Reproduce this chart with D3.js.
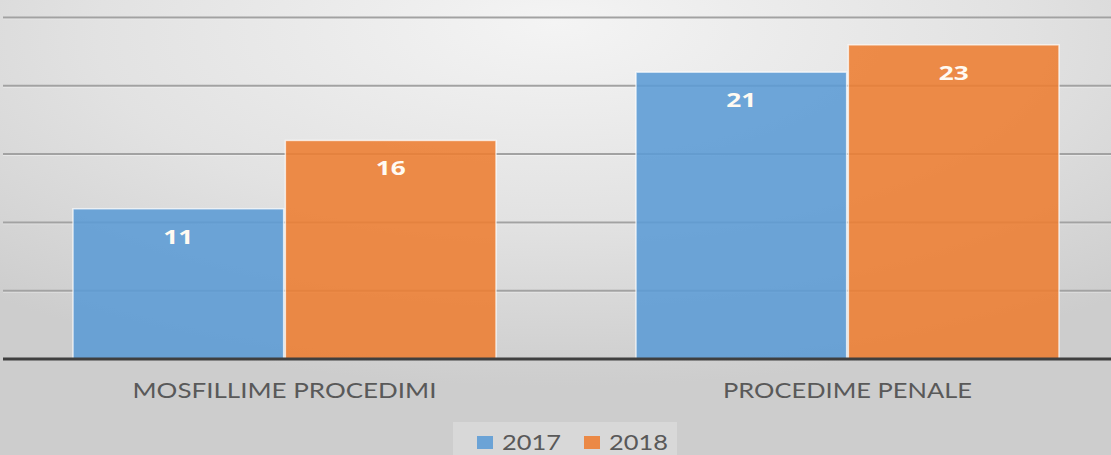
<!DOCTYPE html>
<html><head><meta charset="utf-8">
<script src="https://cdn.jsdelivr.net/npm/d3@7"></script>
<style>html,body{margin:0;padding:0;overflow:hidden;background:#ddd}</style>
</head><body><svg id="c" width="1111" height="455"></svg>
<script>
const categories = ["MOSFILLIME PROCEDIMI", "PROCEDIME PENALE"];
const seriesNames = ["2017", "2018"];
const values2017 = [11, 21];
const values2018 = [16, 23];
const yTicks = [5, 10, 15, 20, 25];
const colors = ["#5B9BD5", "#ED7D31"];

const svg = d3.select("#c");
const W = 1111, H = 455;
const defs = svg.append("defs");
const rg = defs.append("radialGradient").attr("id","bg").attr("cx","50%").attr("cy","10%").attr("r","75%").attr("fx","50%").attr("fy","5%");
rg.append("stop").attr("offset","0%").attr("stop-color","#f4f4f4");
rg.append("stop").attr("offset","55%").attr("stop-color","#e2e2e2");
rg.append("stop").attr("offset","100%").attr("stop-color","#cdcdcd");
svg.append("rect").attr("width",W).attr("height",H).attr("fill","url(#bg)");

const y = d3.scaleLinear().domain([0,25]).range([359,17.5]);
const x0 = d3.scaleBand().domain(categories).range([3,1129]);
const x1 = d3.scaleBand().domain(seriesNames).range([70,493]).paddingInner(0.008);

// gridlines
const grid = svg.append("g");
grid.selectAll("line.h").data(yTicks).join("line")
  .attr("x1",3).attr("x2",W).attr("y1",d=>y(d)+1).attr("y2",d=>y(d)+1)
  .attr("stroke","#ffffff").attr("stroke-opacity",0.5).attr("stroke-width",1.5);
grid.selectAll("line.g").data(yTicks).join("line")
  .attr("x1",3).attr("x2",W).attr("y1",d=>y(d)).attr("y2",d=>y(d))
  .attr("stroke","#a2a2a2").attr("stroke-width",2);

const data = categories.map((c,i)=>({cat:c, vals:[{s:"2017",v:values2017[i],c:colors[0]},{s:"2018",v:values2018[i],c:colors[1]}]}));

const groups = svg.append("g").selectAll("g").data(data).join("g")
  .attr("transform",d=>`translate(${x0(d.cat)},0)`);
groups.selectAll("rect").data(d=>d.vals).join("rect")
  .attr("x",d=>x1(d.s)).attr("width",x1.bandwidth())
  .attr("y",d=>y(d.v)).attr("height",d=>y(0)-y(d.v))
  .attr("fill",d=>d.c).attr("fill-opacity",0.88)
  .attr("stroke","#ffffff").attr("stroke-opacity",0.7).attr("stroke-width",1.5);
groups.selectAll("text").data(d=>d.vals).join("text")
  .attr("x",d=>x1(d.s)+x1.bandwidth()/2).attr("y",d=>y(d.v)+35)
  .attr("text-anchor","middle").attr("fill","#fffaf2")
  .style("font-family","'Open Sans', sans-serif").style("font-weight","700").style("font-size","19.5px")
  .attr("textLength",d=>String(d.v).length*15).attr("lengthAdjust","spacingAndGlyphs")
  .text(d=>d.v);

// baseline
svg.append("line").attr("x1",3).attr("x2",W).attr("y1",y(0)).attr("y2",y(0))
  .attr("stroke","#3f3f3f").attr("stroke-width",3);

// category labels
const catWidths = [304, 249];
svg.append("g").selectAll("text").data(categories).join("text")
  .attr("x",d=>x0(d)+x0.bandwidth()/2).attr("y",398)
  .attr("text-anchor","middle").attr("fill","#595959")
  .style("font-family","Lato, sans-serif").style("font-size","22px")
  .attr("textLength",(d,i)=>catWidths[i]).attr("lengthAdjust","spacingAndGlyphs")
  .text(d=>d);

// legend
svg.append("rect").attr("x",453).attr("y",422).attr("width",224).attr("height",40)
  .attr("fill","#ffffff").attr("fill-opacity",0.22);
const legX = [477, 584];
const lg = svg.append("g").selectAll("g").data(seriesNames).join("g")
  .attr("transform",(d,i)=>`translate(${legX[i]},0)`);
lg.append("rect").attr("x",0).attr("y",436).attr("width",16).attr("height",13)
  .attr("fill",(d,i)=>colors[i]).attr("fill-opacity",0.88);
lg.append("text").attr("x",25).attr("y",450).attr("fill","#595959")
  .style("font-family","Lato, sans-serif").style("font-size","22px")
  .attr("textLength",59).attr("lengthAdjust","spacingAndGlyphs")
  .text(d=>d);
</script></body></html>
